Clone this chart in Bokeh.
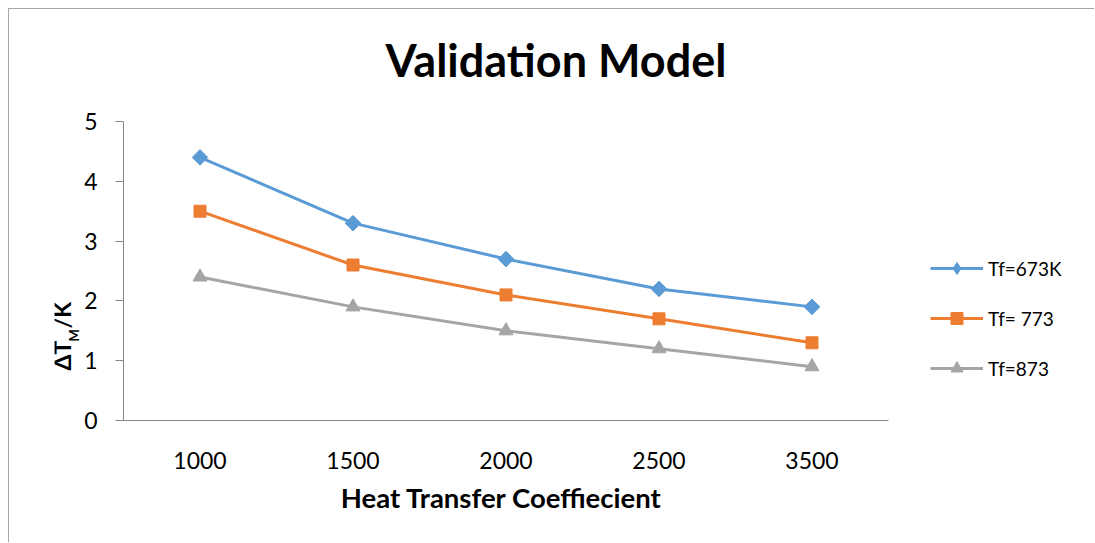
from math import pi
from bokeh.plotting import figure
from bokeh.models import Legend, LegendItem, Range1d, FixedTicker, Label, LinearAxis
from bokeh.embed import file_html
from bokeh.resources import INLINE

categories = ["1000", "1500", "2000", "2500", "3500"]
tf673 = [4.4, 3.3, 2.7, 2.2, 1.9]
tf773 = [3.5, 2.6, 2.1, 1.7, 1.3]
tf873 = [2.4, 1.9, 1.5, 1.2, 0.9]
series_names = ["Tf=673K", "Tf= 773", "Tf=873"]
y_ticks = [0, 1, 2, 3, 4, 5]
x_title = "Heat Transfer Coeffiecient"

FONT = "Lato"
AXIS_GRAY = "#868686"

# category slots 0..5, each category centred in its slot
xpos = [i + 0.5 for i in range(len(categories))]
n_cat = len(categories)

# layout geometry (pixels inside the figure)
FIG_W, FIG_H = 1086, 534
MB_LEFT, MB_BOTTOM = 45, 108
PLOT_LEFT, PLOT_RIGHT = 114, 879     # where the category axis starts/ends
PLOT_TOP, PLOT_BOTTOM = 112, 411     # where y=5 / y=0 sit
frame_w = FIG_W - MB_LEFT
frame_h = FIG_H - MB_BOTTOM
px_x = (PLOT_RIGHT - PLOT_LEFT) / n_cat
px_y = (PLOT_BOTTOM - PLOT_TOP) / (y_ticks[-1] - y_ticks[0])
x_start = -(PLOT_LEFT - MB_LEFT) / px_x
x_end = x_start + frame_w / px_x
y_start = y_ticks[0] - (FIG_H - MB_BOTTOM - PLOT_BOTTOM) / px_y
y_end = y_start + frame_h / px_y

p = figure(
    width=FIG_W, height=FIG_H,
    x_range=Range1d(x_start, x_end), y_range=Range1d(y_start, y_end),
    output_backend="svg", toolbar_location=None,
    min_border_left=MB_LEFT, min_border_right=0,
    min_border_top=0, min_border_bottom=MB_BOTTOM,
)
p.styles = {
    "margin-left": "8px", "margin-top": "8px",
    "border-left": "1px solid #a6a6a6", "border-top": "1px solid #a6a6a6",
}
p.outline_line_color = None
p.xgrid.visible = False
p.ygrid.visible = False
p.background_fill_color = "white"
p.border_fill_color = "white"

# y axis fixed at the category origin
p.yaxis.fixed_location = 0
p.yaxis.bounds = (y_ticks[0], y_ticks[-1])
p.yaxis.ticker = FixedTicker(ticks=y_ticks)
p.yaxis.major_tick_out = 8
p.yaxis.major_tick_in = 0
p.yaxis.minor_tick_line_color = None
p.yaxis.axis_line_color = AXIS_GRAY
p.yaxis.major_tick_line_color = AXIS_GRAY
p.yaxis.major_label_text_font = FONT
p.yaxis.major_label_text_font_size = "23px"
p.yaxis.major_label_text_color = "#000000"
p.yaxis.major_label_standoff = 18

# x axis rule at y = 0
p.xaxis.fixed_location = 0
p.xaxis.bounds = (0, n_cat)
p.xaxis.ticker = FixedTicker(ticks=[])
p.xaxis.major_tick_out = 0
p.xaxis.major_tick_in = 0
p.xaxis.major_label_standoff = 0
p.xaxis.axis_line_color = AXIS_GRAY

# category labels + axis title (non-breaking padding shifts the centred title
# from the frame centre to the centre of the category axis)
xlab = LinearAxis(
    bounds=(0, n_cat),
    ticker=FixedTicker(ticks=xpos),
    major_label_overrides={x: c for x, c in zip(xpos, categories)},
    axis_line_color=None, major_tick_line_color=None, minor_tick_line_color=None,
    major_tick_out=0, major_tick_in=0,
    major_label_text_font=FONT, major_label_text_font_size="23px",
    major_label_text_color="#000000", major_label_standoff=16,
    axis_label=x_title + "\u00a0" * 22, axis_label_text_font=FONT,
    axis_label_text_font_size="27.5px", axis_label_text_font_style="bold",
    axis_label_text_color="#000000", axis_label_standoff=9,
)
p.add_layout(xlab, "below")

# title
p.add_layout(Label(
    x=331, y=376, x_units="screen", y_units="screen",
    text="Validation Model", text_align="left", text_baseline="alphabetic",
    text_font=FONT, text_font_size="45px", text_font_style="bold", text_color="#000000",
))

# y axis label  ΔT_M/K
ylab = dict(x_units="screen", y_units="screen", angle=pi / 2, text_align="left",
            text_baseline="alphabetic", text_font=FONT, text_font_style="bold",
            text_color="#000000")
p.add_layout(Label(x=7, y=65, text="ΔT", text_font_size="23px", **ylab))
p.add_layout(Label(x=19, y=94, text="M", text_font_size="13px", **ylab))
p.add_layout(Label(x=7, y=107, text="/K", text_font_size="23px", **ylab))

colors = ["#5B9BD5", "#ED7D31", "#A5A5A5"]
items = []

# Tf=673K : diamond markers
l1 = p.line(xpos, tf673, line_color=colors[0], line_width=3)
d1 = p.scatter(xpos, tf673, marker="diamond", size=14, fill_color=colors[0], line_color=colors[0])
p.scatter(xpos, tf673, marker="square", angle=pi / 4, size=11, fill_color=colors[0], line_color=colors[0])
items.append(LegendItem(label=series_names[0], renderers=[l1, d1]))

# Tf= 773 : square markers
l2 = p.line(xpos, tf773, line_color=colors[1], line_width=3)
s2 = p.scatter(xpos, tf773, marker="square", size=12, fill_color=colors[1], line_color=colors[1])
items.append(LegendItem(label=series_names[1], renderers=[l2, s2]))

# Tf=873 : triangle markers
l3 = p.line(xpos, tf873, line_color=colors[2], line_width=3)
t3 = p.scatter(xpos, tf873, marker="triangle", size=14, fill_color=colors[2], line_color=colors[2])
items.append(LegendItem(label=series_names[2], renderers=[l3, t3]))

legend = Legend(
    items=items, location=(876, 52), orientation="vertical",
    label_text_font=FONT, label_text_font_size="19px", label_text_color="#000000",
    glyph_width=53, glyph_height=30, label_height=30, spacing=20,
    padding=0, margin=0, label_standoff=5,
    border_line_color=None, background_fill_alpha=0,
)
p.add_layout(legend, "center")

open("out.html", "w").write(file_html(p, INLINE))
